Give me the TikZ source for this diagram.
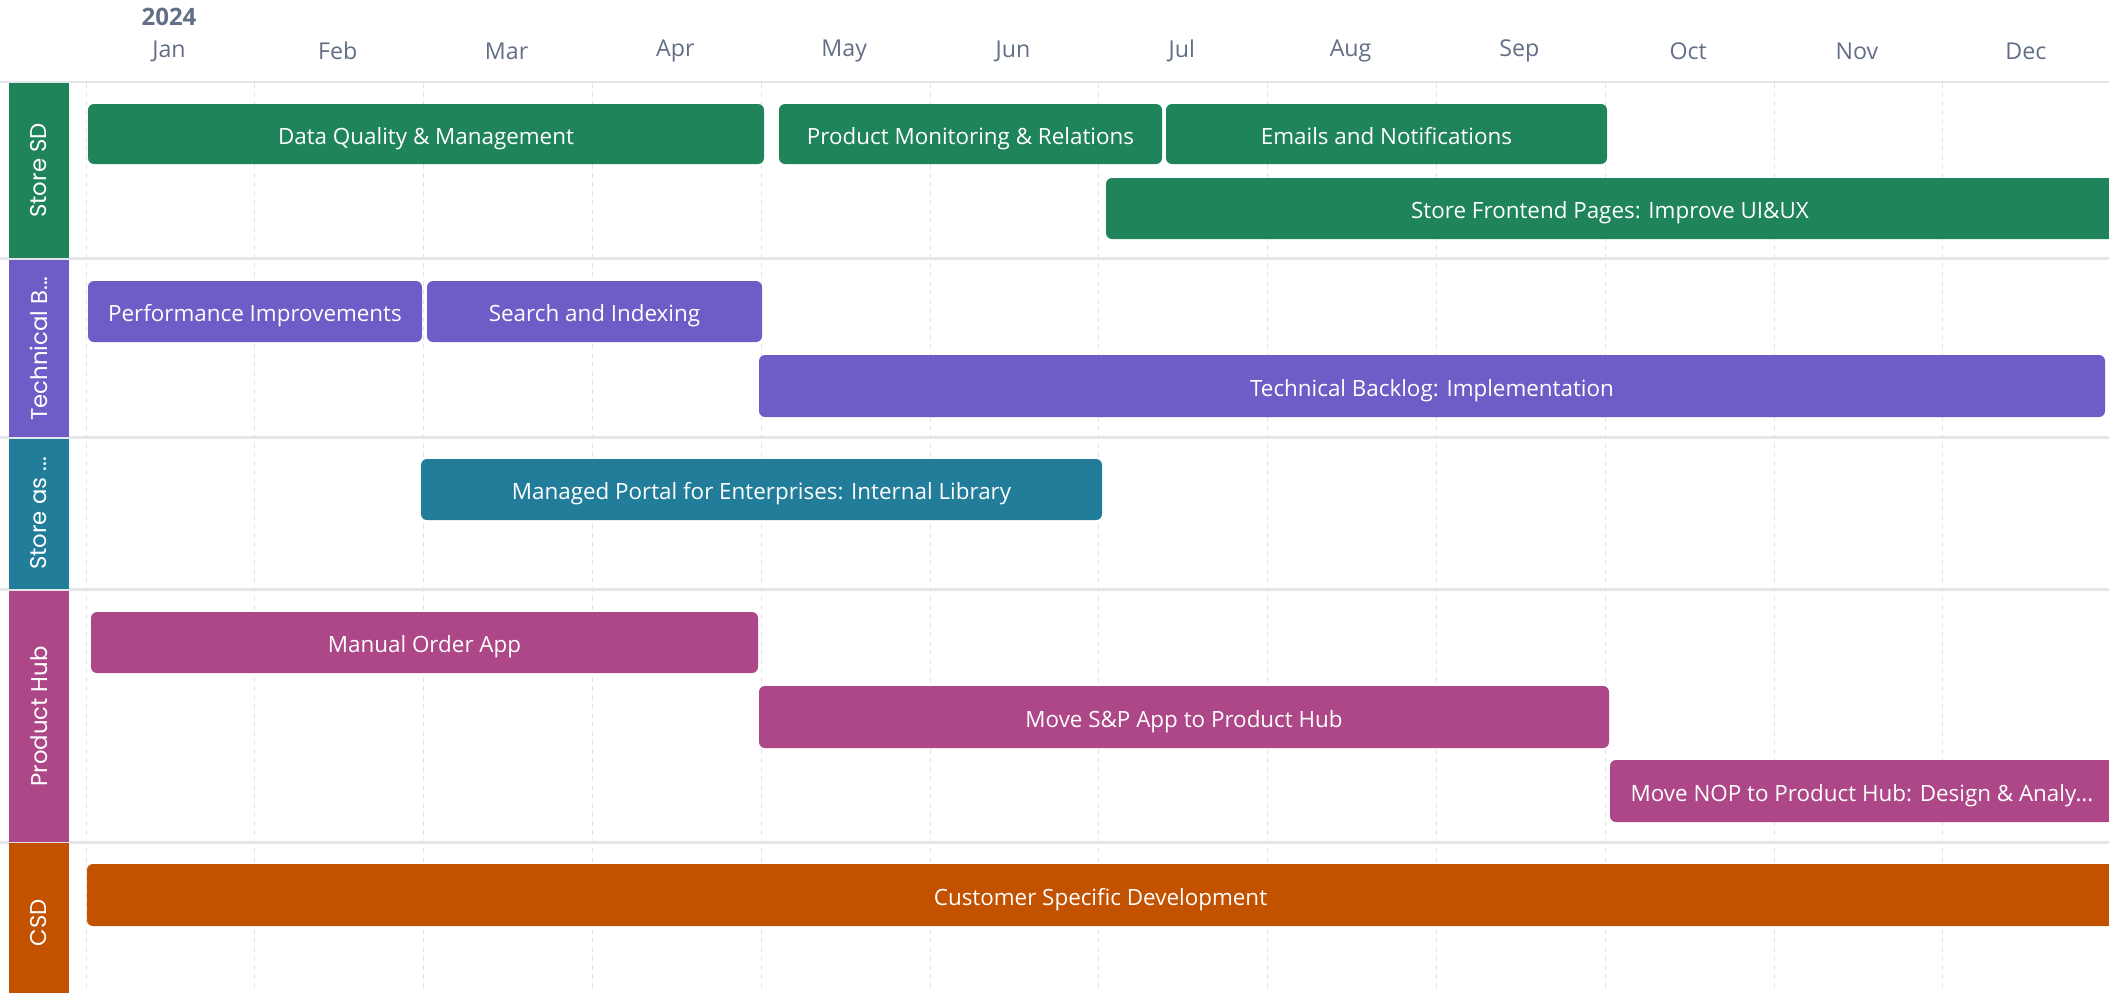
\documentclass[tikz,border=0pt]{standalone}
\usepackage{fontspec}
\setmainfont{Open Sans}
\newfontfamily\lanefont{Poppins}
\definecolor{cgreen}{HTML}{1F845A}
\definecolor{cpurple}{HTML}{6E5DC6}
\definecolor{cteal}{HTML}{227D9B}
\definecolor{cmagenta}{HTML}{AE4787}
\definecolor{corange}{HTML}{C25100}
\definecolor{cmuted}{HTML}{626F86}
\definecolor{cgrid}{HTML}{E2E4E8}
\definecolor{csep}{HTML}{E3E5E9}
\newcommand\gbar[7]{%
  \node[ganttbar, fill=#6, minimum width={(#4-#2)*0.5pt}, minimum height={(#5-#3)*0.5pt}]
    (#1) at ({(#2+#4)/2},{(#3+#5)/2}) {#7};}
\begin{document}
\begin{tikzpicture}[x=0.5pt,y=-0.5pt,
  ganttbar/.style={rounded corners=3pt, inner sep=0pt, text=white, text height=10.4pt, text depth=0pt, font=\fontsize{11.2}{13}\selectfont},
  lanebox/.style={inner sep=0pt, text=white, rotate=90, minimum height=30pt, font=\lanefont\fontsize{11.4}{13}\selectfont},
  month/.style={text=cmuted, inner sep=0pt, font=\fontsize{11.6}{13}\selectfont},
  yearlabel/.style={text=cmuted, inner sep=0pt, font=\bfseries\fontsize{12}{14}\selectfont},
  gridline/.style={draw=cgrid, dash pattern=on 2.5pt off 2pt, line width=0.5pt},
  sepline/.style={draw=csep, line width=1.2pt},
]
\useasboundingbox (0,0) rectangle (2109,992);
\clip (0,0) rectangle (2109,992);
\fill[white] (0,0) rectangle (2109,992);

% month grid
\foreach \k in {0,...,11} {
  \draw[gridline] ({86+168.8*\k},83) -- ({86+168.8*\k},992);
}
% header and lane separators
\foreach \yy in {82,258.5,437.5,589.5,842.5} {
  \draw[sepline] (0,\yy) -- (2109,\yy);
}

% year and months
\node[yearlabel] (year) at (169,17) {2024};
\foreach \m [count=\i from 0] in {Jan,Feb,Mar,Apr,May,Jun,Jul,Aug,Sep,Oct,Nov,Dec} {
  \node[month] (m\i) at ({169+168.8*\i},51) {\m};
}

% lane labels
\node[lanebox, fill=cgreen, minimum width=87.5pt] (l1) at (39,170.5) {Store SD};
\node[lanebox, fill=cpurple, minimum width=88.5pt] (l2) at (39,348.5) {Technical B...};
\node[lanebox, fill=cteal, minimum width=75pt] (l3) at (39,513.5) {Store as ...};
\node[lanebox, fill=cmagenta, minimum width=125.5pt] (l4) at (39,716.5) {Product Hub};
\node[lanebox, fill=corange, minimum width=80pt] (l5) at (39,923) {CSD};

% bars: Store SD
\gbar{dq}{88}{104}{764}{164}{cgreen}{Data Quality \& Management}
\gbar{pm}{779}{104}{1162}{164}{cgreen}{Product Monitoring \& Relations}
\gbar{en}{1166}{104}{1607}{164}{cgreen}{Emails and Notifications}
\gbar{sf}{1106}{178}{2114}{239}{cgreen}{Store Frontend Pages: Improve UI\&UX}
% Technical Backlog
\gbar{pi}{88}{281}{422}{342}{cpurple}{Performance Improvements}
\gbar{si}{427}{281}{762}{342}{cpurple}{Search and Indexing}
\gbar{tb}{759}{355}{2105}{417}{cpurple}{Technical Backlog: Implementation}
% Store as ...
\gbar{mp}{421}{459}{1102}{520}{cteal}{Managed Portal for Enterprises: Internal Library}
% Product Hub
\gbar{mo}{91}{612}{758}{673}{cmagenta}{Manual Order App}
\gbar{ms}{759}{686}{1609}{748}{cmagenta}{Move S\&P App to Product Hub}
\gbar{mn}{1610}{760}{2114}{822}{cmagenta}{Move NOP to Product Hub: Design \& Analy...}
% CSD
\gbar{csd}{87}{864}{2114}{926}{corange}{Customer Specific Development}
\end{tikzpicture}
\end{document}
